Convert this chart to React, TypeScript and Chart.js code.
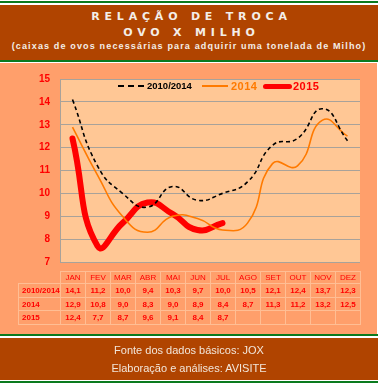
import React, { useEffect, useRef } from "react";
import { Chart, registerables } from "chart.js";

Chart.register(...registerables);

const months = ["JAN", "FEV", "MAR", "ABR", "MAI", "JUN", "JUL", "AGO", "SET", "OUT", "NOV", "DEZ"];
const seriesNames = ["2010/2014", "2014", "2015"];
const avg1014 = [14.1, 11.2, 10.0, 9.4, 10.3, 9.7, 10.0, 10.5, 12.1, 12.4, 13.7, 12.3];
const y2014 = [12.9, 10.8, 9.0, 8.3, 9.0, 8.9, 8.4, 8.7, 11.3, 11.2, 13.2, 12.5];
const y2015 = [12.4, 7.7, 8.7, 9.6, 9.1, 8.4, 8.7];
const yMin = 7;
const yMax = 15;

const SALMON = "#FF9F6B";
const PEACH = "#FFC795";
const BROWN = "#B04400";
const GREEN = "#0A7A1E";
const CELL_BORDER = "#FFBE94";

const fmt = (v: number) => v.toFixed(1).replace(".", ",");

export default function App() {
  const ref = useRef<HTMLCanvasElement | null>(null);

  useEffect(() => {
    if (!ref.current) return;
    const bgPlugin = {
      id: "plotBg",
      beforeDraw(chart: any) {
        const { ctx, chartArea } = chart;
        ctx.save();
        ctx.fillStyle = PEACH;
        ctx.fillRect(chartArea.left, chartArea.top, chartArea.right - chartArea.left, chartArea.bottom - chartArea.top);
        ctx.restore();
      },
    };
    const chart = new Chart(ref.current, {
      type: "line",
      data: {
        labels: months,
        datasets: [
          {
            label: seriesNames[0],
            data: avg1014,
            borderColor: "#000000",
            borderWidth: 1.6,
            borderDash: [4, 3],
            pointRadius: 0,
            tension: 0.5,
            fill: false,
          },
          {
            label: seriesNames[1],
            data: y2014,
            borderColor: "#FF7A00",
            borderWidth: 1.6,
            pointRadius: 0,
            tension: 0.5,
            fill: false,
          },
          {
            label: seriesNames[2],
            data: y2015,
            borderColor: "#FF0000",
            borderWidth: 6,
            pointRadius: 0,
            tension: 0.5,
            fill: false,
            borderCapStyle: "round",
          },
        ],
      },
      options: {
        animation: false,
        responsive: false,
        maintainAspectRatio: false,
        layout: { padding: { top: 9, right: 2, bottom: 8, left: 0 } },
        plugins: { legend: { display: false }, tooltip: { enabled: false }, title: { display: false } },
        scales: {
          x: {
            type: "category",
            display: false,
            offset: true,
            grid: { display: false },
          },
          y: {
            min: yMin,
            max: yMax,
            ticks: {
              stepSize: 1,
              color: "#FF0000",
              padding: 10,
              font: { family: "Liberation Sans", size: 10, weight: "bold" },
            },
            grid: { color: "#A8A29A", lineWidth: 1, drawTicks: false },
            border: { display: true, color: "#A8A29A" },
            afterFit: (s: any) => {
              s.width = 60;
            },
          },
        },
      },
      plugins: [bgPlugin],
    } as any);
    return () => chart.destroy();
  }, []);

  const labelW = 42;
  const colW = 25;
  const tableLeft = 18;
  const headerTop = 271;
  const headerH = 12;
  const rowH = 13.7;
  const rows = [avg1014, y2014, y2015];

  const cellBase: React.CSSProperties = {
    position: "absolute",
    boxSizing: "border-box",
    border: `1px solid ${CELL_BORDER}`,
    color: "#FF0000",
    fontFamily: "Liberation Sans, Arial, sans-serif",
    fontSize: 8,
    display: "flex",
    alignItems: "center",
    justifyContent: "center",
  };

  const legendText: React.CSSProperties = {
    position: "absolute",
    fontFamily: "Liberation Sans, Arial, sans-serif",
    fontWeight: "bold",
    lineHeight: "12px",
    whiteSpace: "nowrap",
  };

  const titleStyle: React.CSSProperties = {
    position: "absolute",
    left: 0,
    width: 378,
    textAlign: "center",
    color: "#F4EEE8",
    fontFamily: "DejaVu Sans, sans-serif",
    fontWeight: "bold",
    fontSize: 11,
    letterSpacing: 4.8,
    lineHeight: "12px",
    paddingLeft: 5,
    boxSizing: "border-box",
    whiteSpace: "nowrap",
  };

  return (
    <div style={{ position: "absolute", left: 0, top: 0, width: 380, height: 386, background: "#FFFFFF", overflow: "hidden" }}>
      {/* header */}
      <div style={{ position: "absolute", left: 0, top: 1, width: 378, height: 2, background: GREEN }} />
      <div style={{ position: "absolute", left: 0, top: 5, width: 378, height: 55, background: BROWN }} />
      <div style={{ position: "absolute", left: 0, top: 60, width: 378, height: 2, background: GREEN }} />
      <div style={{ ...titleStyle, top: 11 }}>RELAÇÃO DE TROCA</div>
      <div style={{ ...titleStyle, top: 27 }}>OVO X MILHO</div>
      <div style={{ position: "absolute", left: 0, top: 41, width: 378, textAlign: "center", color: "#F4EEE8", fontFamily: "Liberation Sans, Arial, sans-serif", fontWeight: "bold", fontSize: 9, letterSpacing: 1.15, lineHeight: "11px", whiteSpace: "nowrap" }}>
        (caixas de ovos necessárias para adquirir uma tonelada de Milho)
      </div>

      {/* salmon body */}
      <div style={{ position: "absolute", left: 0, top: 63, width: 377, height: 271, background: SALMON }} />

      <canvas ref={ref} width={362} height={215} style={{ position: "absolute", left: 0, top: 63, width: 362, height: 215 }} />

      {/* legend */}
      <div style={{ position: "absolute", left: 118, top: 85, width: 26, height: 0, borderTop: "2px dashed #000" }} />
      <div style={{ ...legendText, left: 147, top: 80, fontSize: 9.5, color: "#000" }}>{seriesNames[0]}</div>
      <div style={{ position: "absolute", left: 202, top: 85, width: 26, height: 2, background: "#FF7A00" }} />
      <div style={{ ...legendText, left: 231, top: 80, fontSize: 11, color: "#FF7A00", letterSpacing: 0.5 }}>{seriesNames[1]}</div>
      <div style={{ position: "absolute", left: 263, top: 84, width: 29, height: 5, borderRadius: 3, background: "#FF0000" }} />
      <div style={{ ...legendText, left: 293, top: 80, fontSize: 11, color: "#FF0000", letterSpacing: 0.5 }}>{seriesNames[2]}</div>

      {/* table */}
      {months.map((m, i) => (
        <div key={m} style={{ ...cellBase, left: tableLeft + labelW + i * colW, top: headerTop, width: colW + 1, height: headerH + 1 }}>
          {m}
        </div>
      ))}
      {rows.map((r, ri) => (
        <React.Fragment key={ri}>
          <div style={{ ...cellBase, left: tableLeft, top: headerTop + headerH + ri * rowH, width: labelW + 1, height: rowH + 1, justifyContent: "flex-start", paddingLeft: 3, fontWeight: "bold" }}>
            {seriesNames[ri]}
          </div>
          {months.map((m, i) => (
            <div key={m} style={{ ...cellBase, left: tableLeft + labelW + i * colW, top: headerTop + headerH + ri * rowH, width: colW + 1, height: rowH + 1, fontWeight: "bold" }}>
              {r[i] !== undefined ? fmt(r[i]) : ""}
            </div>
          ))}
        </React.Fragment>
      ))}

      {/* footer */}
      <div style={{ position: "absolute", left: 0, top: 334, width: 378, height: 2, background: GREEN }} />
      <div style={{ position: "absolute", left: 0, top: 338, width: 378, height: 42, background: BROWN }} />
      <div style={{ position: "absolute", left: 0, top: 381, width: 378, height: 2, background: GREEN }} />
      <div style={{ position: "absolute", left: 0, top: 344, width: 378, textAlign: "center", color: "#F2E6DA", fontFamily: "Liberation Sans, Arial, sans-serif", fontSize: 11, lineHeight: "13px" }}>
        Fonte dos dados básicos: JOX
      </div>
      <div style={{ position: "absolute", left: 0, top: 362, width: 378, textAlign: "center", color: "#F2E6DA", fontFamily: "Liberation Sans, Arial, sans-serif", fontSize: 11, lineHeight: "13px" }}>
        Elaboração e análises: AVISITE
      </div>
    </div>
  );
}
